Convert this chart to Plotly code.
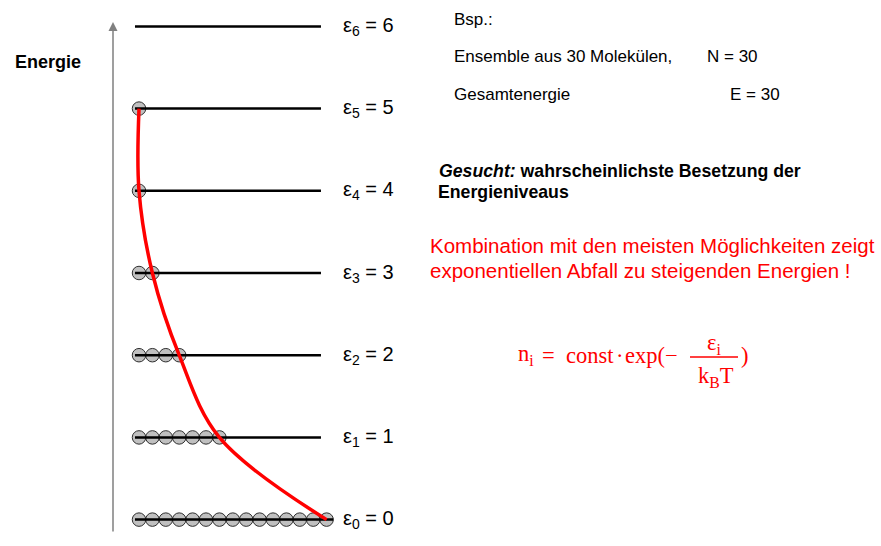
import plotly.graph_objects as go

# ---------------- data ----------------
energies = [0, 1, 2, 3, 4, 5, 6]                 # energy levels ε_i
occupation = [15, 7, 4, 2, 1, 1, 0]              # molecules on each level (N = 30, E = 30)
level_labels = ["ε<sub>%d</sub> = %d" % (e, e) for e in energies]

info_lines = ["Bsp.:", "Ensemble aus 30 Molekülen,", "Gesamtenergie"]
info_values = ["N = 30", "E = 30"]
task_lines = ["<b><i>Gesucht:</i> wahrscheinlichste Besetzung der</b>", "<b>Energieniveaus</b>"]
result_lines = ["Kombination mit den meisten Möglichkeiten zeigt",
                "exponentiellen Abfall zu steigenden Energien !"]

# ---------------- layout helpers ----------------
W, H = 881, 546
X0_PX, DX_PX = 139.0, 13.4          # pixel of molecule #1 and spacing between molecules
x_range = [1 - X0_PX / DX_PX, 1 + (W - X0_PX) / DX_PX]
y_range = [-0.321, 6.321]


def px(x):
    return x / W


def py(y):
    return 1 - y / H


SANS = "Liberation Sans, Arial, sans-serif"
SERIF = "Liberation Serif, Times New Roman, serif"
RED = "#ff0000"

fig = go.Figure()

# molecules (circles)
mx, my = [], []
for e, n in zip(energies, occupation):
    for k in range(1, n + 1):
        mx.append(k)
        my.append(e)
fig.add_trace(go.Scatter(x=mx, y=my, mode="markers",
                         marker=dict(size=13.5, color="#c0c0c0",
                                     line=dict(color="#303030", width=1)),
                         hoverinfo="skip", showlegend=False))

# energy level lines (drawn over the circles)
LINE_START, LINE_END = 0.70, 14.58
lx, ly = [], []
for e, n in zip(energies, occupation):
    lx += [LINE_START, max(LINE_END, n + 0.5), None]
    ly += [e, e, None]
fig.add_trace(go.Scatter(x=lx, y=ly, mode="lines",
                         line=dict(color="black", width=2.5),
                         hoverinfo="skip", showlegend=False))

# red curve through the occupied levels
cx = [n for n in occupation if n > 0]
cy = [e for e, n in zip(energies, occupation) if n > 0]
fig.add_trace(go.Scatter(x=cx, y=cy, mode="lines",
                         line=dict(color=RED, width=3.5, shape="spline", smoothing=1.0),
                         hoverinfo="skip", showlegend=False))

annotations = []
# level labels
for e, lab in zip(energies, level_labels):
    annotations.append(dict(x=16.1, y=e, xref="x", yref="y", text=lab,
                            xanchor="left", yanchor="middle", showarrow=False,
                            font=dict(family=SANS, size=20, color="black")))

# vertical energy axis (arrow)
annotations.append(dict(x=px(113), y=py(22), xref="paper", yref="paper", text="",
                        showarrow=True, ax=0, ay=511, axref="pixel", ayref="pixel",
                        arrowhead=2, arrowsize=1.2, arrowwidth=1.5, arrowcolor="#808080"))
annotations.append(dict(x=px(13), y=py(62), xref="paper", yref="paper", text="<b>Energie</b>",
                        xanchor="left", yanchor="middle", showarrow=False,
                        font=dict(family=SANS, size=18, color="black")))

# info text (top right)
for txt, yy in zip(info_lines, [20, 57, 94]):
    annotations.append(dict(x=px(452), y=py(yy), xref="paper", yref="paper", text=txt,
                            xanchor="left", yanchor="middle", showarrow=False,
                            font=dict(family=SANS, size=17, color="black")))
for txt, yy, xx in zip(info_values, [57, 94], [705, 728]):
    annotations.append(dict(x=px(xx), y=py(yy), xref="paper", yref="paper", text=txt,
                            xanchor="left", yanchor="middle", showarrow=False,
                            font=dict(family=SANS, size=17, color="black")))

for txt, yy, xx in zip(task_lines, [171, 192], [437, 436]):
    annotations.append(dict(x=px(xx), y=py(yy), xref="paper", yref="paper", text=txt,
                            xanchor="left", yanchor="middle", showarrow=False,
                            font=dict(family=SANS, size=17.7, color="black")))

for txt, yy in zip(result_lines, [246, 270]):
    annotations.append(dict(x=px(428), y=py(yy), xref="paper", yref="paper", text=txt,
                            xanchor="left", yanchor="middle", showarrow=False,
                            font=dict(family=SANS, size=20.5, color=RED)))

# formula n_i = const · exp(-ε_i / (k_B T))
fpieces = [("n<sub>i</sub>", 516, 355), ("=", 540, 355), ("const", 564, 355),
           ("·", 614, 355), ("exp(", 623, 355), ("−", 663, 355), (")", 739, 355)]
for txt, xx, yy in fpieces:
    annotations.append(dict(x=px(xx), y=py(yy), xref="paper", yref="paper", text=txt,
                            xanchor="left", yanchor="middle", showarrow=False,
                            font=dict(family=SERIF, size=22.5, color=RED)))
annotations.append(dict(x=px(714), y=py(344), xref="paper", yref="paper", text="ε<sub>i</sub>",
                        xanchor="center", yanchor="middle", showarrow=False,
                        font=dict(family=SERIF, size=22.5, color=RED)))
annotations.append(dict(x=px(716), y=py(377), xref="paper", yref="paper", text="k<sub>B</sub>T",
                        xanchor="center", yanchor="middle", showarrow=False,
                        font=dict(family=SERIF, size=22.5, color=RED)))

shapes = [dict(type="line", xref="paper", yref="paper", x0=px(690), x1=px(738),
               y0=py(357), y1=py(357), line=dict(color=RED, width=1.5))]

fig.update_layout(
    width=W, height=H, margin=dict(l=0, r=0, t=0, b=0),
    paper_bgcolor="white", plot_bgcolor="white",
    xaxis=dict(range=x_range, visible=False, fixedrange=True),
    yaxis=dict(range=y_range, visible=False, fixedrange=True),
    annotations=annotations, shapes=shapes, showlegend=False,
)

fig.write_html("out.html", config={"displayModeBar": False},
               post_script="document.body.style.margin='0';document.body.style.overflow='hidden';")
